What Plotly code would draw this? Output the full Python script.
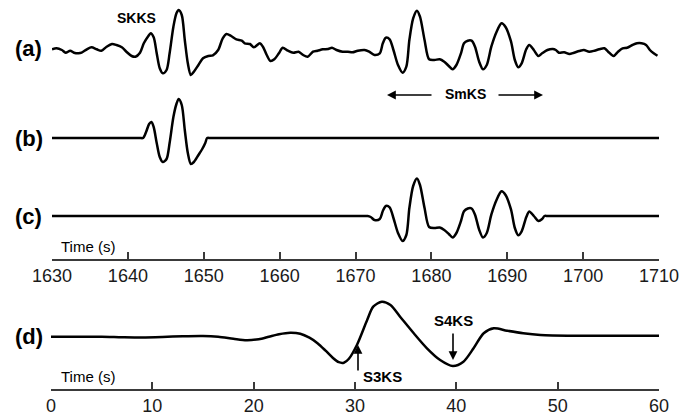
import plotly.graph_objects as go

# ---------------- data ----------------
# (a) observed trace, time in s, amplitude in arbitrary units
time_a = [1630.0, 1630.6, 1631.3, 1631.8, 1632.4, 1632.9, 1633.5, 1633.9, 1634.6, 1635.2,
          1635.9, 1636.5, 1637.2, 1637.9, 1638.5, 1639.2, 1639.8, 1640.5, 1641.0, 1641.6,
          1642.1, 1642.7, 1643.0, 1643.4, 1643.8, 1644.2, 1644.6, 1645.1, 1645.5, 1646.0,
          1646.4, 1646.7, 1647.1, 1647.5, 1647.9, 1648.3, 1648.7, 1649.3, 1649.9, 1650.6,
          1651.2, 1651.9, 1652.5, 1653.0, 1653.6, 1654.3, 1655.0, 1655.4, 1656.1, 1656.6,
          1657.4, 1657.8, 1658.3, 1658.8, 1659.3, 1659.9, 1660.4, 1661.1, 1661.8, 1662.5,
          1663.1, 1663.7, 1664.4, 1665.0, 1665.7, 1666.4, 1666.9, 1667.5, 1668.3, 1669.0,
          1669.6, 1670.3, 1671.2, 1671.8, 1672.5, 1673.2, 1673.6, 1674.0, 1674.5, 1675.0,
          1675.6, 1676.2, 1676.7, 1677.1, 1677.6, 1678.1, 1678.5, 1679.1, 1679.7, 1680.4,
          1681.1, 1681.7, 1682.3, 1682.8, 1683.3, 1683.9, 1684.3, 1684.8, 1685.3, 1685.75,
          1686.3, 1686.8, 1687.3, 1687.9, 1688.6, 1689.25, 1689.8, 1690.5, 1691.0, 1691.45,
          1691.9, 1692.5, 1692.9, 1693.5, 1694.1, 1694.6, 1695.3, 1696.0, 1696.4, 1696.8,
          1697.5, 1698.2, 1698.8, 1699.5, 1700.1, 1700.8, 1701.5, 1702.1, 1702.8, 1703.3,
          1704.0, 1704.6, 1705.2, 1705.8, 1706.5, 1707.1, 1707.7, 1708.3, 1708.8, 1709.3,
          1709.8]
amp_a = [-1.3, -0.3, -2.0, -4.7, -2.7, -4.7, -5.3, -4.7, -1.3, 0.7,
         -1.3, -2.7, 1.3, 4.0, 3.0, 0.7, -3.7, -8.0, -8.7, -4.7,
         4.7, 12.0, 14.7, 10.7, -5.3, -20.3, -25.3, -22.0, -5.3, 21.3,
         34.7, 38.0, 33.0, 8.0, -15.3, -27.0, -23.7, -17.0, -10.3, -8.0,
         -7.3, -2.0, 9.7, 14.0, 12.0, 8.7, 7.3, 4.7, 4.0, 0.7,
         4.7, 1.3, -7.0, -13.0, -11.3, -5.3, 0.3, -2.7, -4.7, -3.7,
         -7.0, -8.7, -3.7, -2.7, -1.3, -1.0, 0.3, -2.0, -3.7, -3.7,
         -4.3, -2.7, -2.0, -3.7, -7.0, -5.3, 4.7, 10.3, 8.7, -2.0,
         -17.0, -24.7, -18.7, 8.0, 29.7, 37.3, 31.3, 8.0, -11.3, -12.0,
         -11.3, -13.7, -18.0, -21.3, -17.0, -5.3, 4.7, 7.3, 7.3, 1.3,
         -13.7, -21.3, -17.0, 1.3, 16.3, 24.7, 20.7, 6.3, -12.0, -19.3,
         -15.3, -1.3, 3.0, -2.0, -8.0, -5.3, -2.0, -1.0, -2.0, -4.7,
         -4.3, -6.0, -4.7, -3.0, -2.0, -3.7, -2.7, -1.3, -0.3, -3.7,
         -8.0, -3.7, -0.3, 0.3, 3.0, 4.7, 4.7, 3.0, -2.0, -5.3,
         -7.7]

# (b) synthetic SKKS
time_b = [1630.0, 1634.0, 1638.0, 1641.0, 1641.6, 1642.0, 1642.4, 1642.8, 1643.1, 1643.4,
          1643.8, 1644.2, 1644.6, 1645.1, 1645.5, 1646.0, 1646.4, 1646.7, 1647.1, 1647.5,
          1647.9, 1648.3, 1648.7, 1649.3, 1649.8, 1650.2, 1650.45, 1650.8, 1651.5, 1655.0,
          1665.0, 1680.0, 1695.0, 1710.0]
amp_b = [0.0, 0.0, 0.0, 0.0, 0.0, 0.0, 6.0, 14.0, 16.0, 11.0,
         -5.0, -19.0, -24.0, -21.0, -5.0, 21.0, 34.0, 39.0, 33.0, 8.0,
         -15.0, -26.0, -24.0, -17.0, -11.0, -5.0, 0.0, 0.0, 0.0, 0.0,
         0.0, 0.0, 0.0, 0.0]

# (c) synthetic SmKS
time_c = [1630.0, 1640.0, 1650.0, 1660.0, 1666.0, 1669.0, 1670.5, 1671.2, 1671.6, 1672.0,
          1672.5, 1673.2, 1673.6, 1674.0, 1674.5, 1675.0, 1675.6, 1676.2, 1676.7, 1677.1,
          1677.6, 1678.1, 1678.5, 1679.1, 1679.7, 1680.4, 1681.1, 1681.7, 1682.3, 1682.8,
          1683.3, 1683.9, 1684.3, 1684.8, 1685.3, 1685.75, 1686.3, 1686.8, 1687.3, 1687.9,
          1688.6, 1689.25, 1689.8, 1690.5, 1691.0, 1691.45, 1691.9, 1692.5, 1692.9, 1693.5,
          1694.1, 1694.6, 1694.9, 1695.3, 1696.0, 1699.0, 1703.0, 1710.0]
amp_c = [0.0, 0.0, 0.0, 0.0, 0.0, 0.0, 0.0, 0.0, 0.0, -1.0,
         -4.0, -3.0, 5.0, 10.0, 8.7, -2.0, -17.0, -25.0, -19.0, 8.0,
         30.0, 37.5, 31.0, 8.0, -11.0, -12.0, -11.5, -14.0, -18.0, -21.5,
         -17.0, -5.0, 4.7, 7.5, 7.5, 1.3, -13.7, -21.5, -17.0, 1.3,
         16.3, 24.7, 20.7, 6.3, -12.0, -19.3, -15.3, -1.3, 4.5, 0.0,
         -5.0, -3.0, 0.0, 0.0, 0.0, 0.0, 0.0, 0.0]

# (d) S3KS / S4KS trace, time 0-60 s
time_d = [0.0, 2.5, 5.0, 7.0, 9.0, 11.0, 13.0, 15.0, 16.5, 18.0,
          19.3, 20.5, 21.5, 22.5, 23.6, 24.6, 25.5, 26.3, 27.1, 27.8,
          28.4, 28.9, 29.4, 30.2, 31.2, 31.8, 32.65, 33.5, 34.45, 35.8,
          37.1, 38.4, 39.65, 40.7, 41.7, 42.7, 43.7, 45.0, 46.6, 48.3,
          51.6, 54.9, 57.5, 60.0]
amp_d = [0.0, 0.0, 0.0, -0.5, -0.8, -0.3, 0.5, 0.8, 0.0, -2.0,
         -3.5, -2.5, 0.0, 2.5, 4.0, 3.0, -1.0, -6.5, -14.0, -21.0,
         -25.5, -26.0, -22.0, -8.0, 16.7, 30.0, 35.0, 31.7, 20.0, 3.4,
         -11.6, -23.3, -29.3, -25.0, -11.6, 3.4, 8.4, 6.0, 3.4, 1.7,
         1.0, 1.0, 1.0, 1.0]

top_ticks = [1630, 1640, 1650, 1660, 1670, 1680, 1690, 1700, 1710]
bottom_ticks = [0, 10, 20, 30, 40, 50, 60]
trace_labels = ["(a)", "(b)", "(c)", "(d)"]

# ---------------- layout helpers ----------------
W, H = 697, 415
FONT = "Liberation Sans, Arial, Helvetica, sans-serif"


def px_x(x):
    return x / W


def px_y(y):
    return 1 - y / H


def ydomain(base, half):
    return [px_y(base + half), px_y(base - half)]


HALF = 45
bases = [48, 138, 216, 336.7]

fig = go.Figure()
line = dict(color="black", width=2.5, shape="spline", smoothing=0.8)
fig.add_trace(go.Scatter(x=time_a, y=amp_a, mode="lines", line=line, xaxis="x", yaxis="y"))
fig.add_trace(go.Scatter(x=time_b, y=amp_b, mode="lines", line=line, xaxis="x", yaxis="y2"))
fig.add_trace(go.Scatter(x=time_c, y=amp_c, mode="lines", line=line, xaxis="x", yaxis="y3"))
fig.add_trace(go.Scatter(x=time_d, y=amp_d, mode="lines", line=line, xaxis="x2", yaxis="y4"))

axis_common = dict(
    showgrid=False, zeroline=False, showline=True, linecolor="#3a3a3a", linewidth=1.5,
    ticks="inside", ticklen=7, tickwidth=1.5, tickcolor="#3a3a3a", automargin=False,
    tickfont=dict(family=FONT, size=18, color="#1a1a1a"), anchor="free",
)
yhidden = dict(visible=False, range=[-HALF, HALF], fixedrange=True, automargin=False)

fig.update_layout(
    template="none",
    width=W, height=H, margin=dict(l=0, r=0, t=0, b=0, pad=0, autoexpand=False),
    paper_bgcolor="white", plot_bgcolor="rgba(0,0,0,0)", showlegend=False,
    xaxis=dict(domain=[px_x(52), px_x(659)], range=[1630, 1710], tickvals=top_ticks,
               position=px_y(260), **axis_common),
    xaxis2=dict(domain=[px_x(51), px_x(659)], range=[0, 60], tickvals=bottom_ticks,
                position=px_y(390), **axis_common),
    yaxis=dict(domain=ydomain(bases[0], HALF), anchor="x", **yhidden),
    yaxis2=dict(domain=ydomain(bases[1], HALF), anchor="x", **yhidden),
    yaxis3=dict(domain=ydomain(bases[2], HALF), anchor="x", **yhidden),
    yaxis4=dict(domain=ydomain(bases[3], HALF), anchor="x2", **yhidden),
)


def text(x, y, s, size=14, bold=True, xanchor="center"):
    return dict(x=px_x(x), y=px_y(y), xref="paper", yref="paper",
                text=("<b>%s</b>" % s) if bold else s, showarrow=False,
                xanchor=xanchor, yanchor="middle",
                font=dict(family=FONT, size=size, color="black"))


ann = []
for lab, b in zip(trace_labels, bases):
    ann.append(text(29, b, lab, size=22))

ann.append(text(136, 18, "SKKS", size=14))
ann.append(text(465, 94, "SmKS", size=14))
ann.append(text(383, 376, "S3KS", size=15))
ann.append(text(453, 320, "S4KS", size=15))
ann.append(text(59, 246, "Time (s)", size=15, bold=False, xanchor="left"))
ann.append(text(59, 376, "Time (s)", size=15, bold=False, xanchor="left"))


def arrow(hx, hy, tx, ty):
    return dict(x=px_x(hx), y=px_y(hy), xref="paper", yref="paper", text="",
                showarrow=True, ax=tx - hx, ay=ty - hy, arrowhead=2, arrowsize=1.1,
                arrowwidth=1.6, arrowcolor="black", standoff=0, startstandoff=0)


ann.append(arrow(387, 95, 433, 95))
ann.append(arrow(543, 95, 497, 95))
ann.append(arrow(358, 345, 358, 372))
ann.append(arrow(453, 360, 453, 332))

fig.update_layout(annotations=ann)
fig.write_html("out.html")
